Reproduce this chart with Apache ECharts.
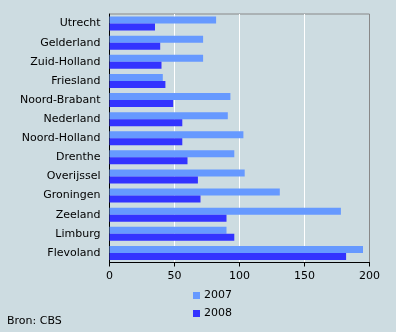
<!DOCTYPE html>
<html>
<head>
<meta charset="utf-8">
<script src="https://cdn.jsdelivr.net/npm/echarts@6/dist/echarts.min.js"></script>
<style>
html,body{margin:0;padding:0;background:#cddce1;}
#c{width:396px;height:332px;}
</style>
</head>
<body>
<div id="c"></div>
<script>
const categories = ['Utrecht','Gelderland','Zuid-Holland','Friesland','Noord-Brabant','Nederland','Noord-Holland','Drenthe','Overijssel','Groningen','Zeeland','Limburg','Flevoland'];
const values2007 = [82, 72, 72, 41, 93, 91, 103, 96, 104, 131, 178, 90, 195];
const values2008 = [35, 39, 40, 43, 49, 56, 56, 60, 68, 70, 90, 96, 182];
const seriesNames = ['2007', '2008'];
const sourceText = 'Bron: CBS';

const font = 'DejaVu Sans, Verdana, sans-serif';
const chart = echarts.init(document.getElementById('c'), null, {renderer: 'canvas'});
chart.setOption({
  backgroundColor: '#cddce1',
  animation: false,
  textStyle: {fontFamily: font, fontSize: 11, color: '#000'},
  grid: {left: 109.5, top: 14, right: 26.5, bottom: 69.5, show: true, borderColor: '#888', borderWidth: 1, backgroundColor: 'transparent'},
  xAxis: {
    type: 'value', min: 0, max: 200, interval: 50,
    axisLine: {show: true, lineStyle: {color: '#000', width: 1}},
    axisTick: {show: true, length: 4, lineStyle: {color: '#000'}},
    axisLabel: {color: '#000', fontFamily: font, fontSize: 11, margin: 8},
    splitLine: {show: true, lineStyle: {color: ['#ffffff','#ffffff','#ffffff','#ffffff','#888888'], width: 1}}
  },
  yAxis: {
    type: 'category', data: categories, inverse: true,
    axisLine: {show: true, lineStyle: {color: '#000', width: 1}},
    axisTick: {show: false},
    axisLabel: {color: '#000', fontFamily: font, fontSize: 11, margin: 9}
  },
  legend: {
    orient: 'vertical', left: 188, top: 285,
    itemWidth: 7, itemHeight: 7, itemGap: 7, icon: 'rect',
    textStyle: {fontFamily: font, fontSize: 11, color: '#000', padding: [0,0,0,-1]},
    data: seriesNames
  },
  graphic: [{type: 'text', left: 7, top: 316, style: {text: sourceText, font: '11px ' + font, fill: '#000'}}],
  series: [
    {name: seriesNames[0], type: 'bar', data: values2007, barWidth: 7, barGap: '0%', itemStyle: {color: '#6699ff'}},
    {name: seriesNames[1], type: 'bar', data: values2008, barWidth: 7, barGap: '0%', itemStyle: {color: '#3333ff'}}
  ]
});
</script>
</body>
</html>
